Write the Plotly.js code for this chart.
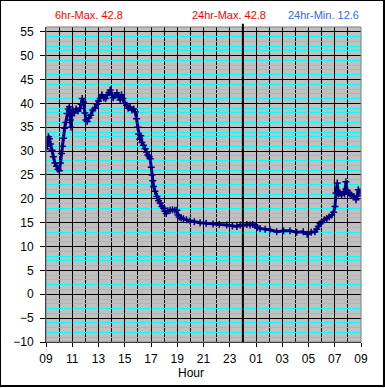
<!DOCTYPE html>
<html>
<head>
<meta charset="utf-8">
<script src="https://cdn.plot.ly/plotly-3.0.1.min.js"></script>
<style>
  html, body { margin: 0; padding: 0; background: #fff; }
  #chart { position: absolute; left: 0; top: 0; width: 385px; height: 388px; }
  #frame { position: absolute; left: 0; top: 0; width: 382px; height: 384px;
           border-left: 1px solid #000; border-top: 1px solid #000;
           border-right: 2px solid #000; border-bottom: 2px solid #000; pointer-events: none; }
</style>
</head>
<body>
<div id="chart"></div>
<div id="frame"></div>
<script>
// Hours elapsed since 09:00 of the first day
const hoursSinceStart = [
  0.00,0.04,0.10,0.18,0.26,0.34,0.46,0.56,0.68,0.80,0.92,1.02,1.10,1.18,1.26,1.34,1.42,1.50,1.60,1.70,
  1.78,1.86,1.90,1.96,2.04,2.16,2.30,2.44,2.58,2.68,2.76,2.86,2.96,3.04,3.14,3.26,3.40,3.56,3.72,3.88,
  4.00,4.13,4.26,4.40,4.54,4.66,4.80,4.89,5.00,5.12,5.26,5.40,5.52,5.65,5.76,5.86,6.00,6.14,6.26,6.40,
  6.54,6.68,6.80,6.90,6.98,7.06,7.14,7.22,7.31,7.42,7.56,7.66,7.75,7.86,7.94,8.02,8.08,8.14,8.20,8.30,
  8.45,8.58,8.70,8.84,8.95,9.06,9.16,9.28,9.46,9.64,9.82,9.97,10.05,10.15,10.30,10.47,10.70,10.98,11.30,11.74,
  12.20,12.73,13.20,13.77,14.20,14.54,14.80,15.02,15.30,15.55,15.75,15.93,16.10,16.31,16.70,17.07,17.58,18.10,18.59,19.10,
  19.60,19.90,20.20,20.49,20.62,20.75,20.88,21.00,21.20,21.39,21.58,21.77,21.92,22.02,22.09,22.19,22.29,22.40,22.52,22.65,
  22.75,22.85,22.94,23.03,23.16,23.29,23.45,23.62,23.72,23.79,23.92,24.00
];
const temperature = [
  30.5,32.0,31.0,33.0,32.6,31.5,30.2,28.8,27.5,26.8,26.2,25.9,27.5,29.5,31.0,32.7,34.8,36.0,37.9,38.8,
  39.3,36.5,35.0,37.5,38.6,38.0,38.8,38.4,38.9,39.8,41.0,40.3,38.0,36.5,36.2,37.0,37.5,38.6,39.0,39.8,
  40.5,41.0,41.8,41.2,41.0,41.8,42.2,42.8,41.8,41.2,41.6,42.2,41.4,40.7,41.8,41.0,40.0,39.6,39.0,39.2,
  38.6,38.8,38.2,36.8,35.0,33.6,32.5,33.2,31.8,31.2,30.5,29.8,29.2,28.8,28.4,26.6,25.0,23.8,22.6,21.6,
  20.5,19.6,19.1,18.4,18.0,17.4,16.9,17.5,17.6,17.7,17.6,17.6,16.6,16.2,16.0,15.8,15.6,15.4,15.2,15.0,
  14.9,14.7,14.6,14.5,14.3,14.2,14.5,14.4,14.6,14.5,14.6,14.4,14.0,13.8,13.6,13.5,13.1,13.3,13.3,13.0,
  13.1,12.6,13.0,13.1,13.6,14.2,14.8,15.2,15.6,15.9,16.2,16.6,17.2,18.4,21.2,23.3,21.0,21.2,20.8,21.5,
  21.0,23.6,21.8,21.2,21.0,20.8,20.5,19.8,20.6,21.9,21.5,21.3
];
const tickPositions = [0,2,4,6,8,10,12,14,16,18,20,22,24];
const tickLabels = ['09','11','13','15','17','19','21','23','01','03','05','07','09'];
const startHour = 9;
const statLabels = ['6hr-Max. 42.8', '24hr-Max. 42.8', '24hr-Min. 12.6'];
const statColors = ['#ff0000', '#ff0000', '#3366ff'];
const statPositions = [0.135, 0.58, 0.88];

const midnight = 24 - startHour;

const trace = {
  x: hoursSinceStart,
  y: temperature,
  type: 'scatter',
  mode: 'lines+markers',
  line: { color: '#000080', width: 3 },
  marker: { symbol: 'cross-thin-open', size: 5, color: '#000080', line: { color: '#000080', width: 1.5 } },
  hoverinfo: 'skip'
};

const annotations = statLabels.map((t, i) => ({
  text: t, xref: 'paper', yref: 'paper', x: statPositions[i], y: 1.038,
  xanchor: 'center', yanchor: 'middle', showarrow: false,
  font: { family: 'Liberation Sans, Arial, sans-serif', size: 11, color: statColors[i] }
}));
annotations.push({
  text: 'Hour', xref: 'paper', yref: 'paper', x: 0.46, y: -0.097,
  xanchor: 'center', yanchor: 'middle', showarrow: false,
  font: { family: 'Liberation Sans, Arial, sans-serif', size: 12, color: '#000' }
});

const layout = {
  width: 385, height: 388,
  margin: { l: 46, r: 24, t: 27, b: 46, pad: 0 },
  paper_bgcolor: '#ffffff',
  plot_bgcolor: '#c0c0c0',
  showlegend: false,
  font: { family: 'Liberation Sans, Arial, sans-serif', size: 12, color: '#000' },
  xaxis: {
    range: [0, 24],
    tickmode: 'array', tickvals: tickPositions, ticktext: tickLabels,
    ticks: 'outside', ticklen: 4, tickcolor: '#000', tickwidth: 1,
    ticklabelstandoff: 2,
    showgrid: true, gridcolor: '#000', gridwidth: 1,
    minor: { tickmode: 'linear', tick0: 0, dtick: 1, showgrid: true, gridcolor: '#000', gridwidth: 1 },
    showline: true, linecolor: '#000', linewidth: 1,
    zeroline: false, fixedrange: true,
    tickfont: { size: 12 }
  },
  yaxis: {
    range: [-10, 56],
    tickmode: 'linear', tick0: -10, dtick: 5,
    ticks: 'outside', ticklen: 5, tickcolor: '#000', tickwidth: 1,
    ticklabelstandoff: 4,
    showgrid: true, gridcolor: '#000', gridwidth: 1,
    minor: { tickmode: 'linear', tick0: -10, dtick: 1, showgrid: true, gridcolor: '#00ffff', gridwidth: 1 },
    showline: true, linecolor: '#000', linewidth: 1,
    zeroline: false, fixedrange: true,
    tickfont: { size: 12 }
  },
  shapes: [
    { type: 'rect', xref: 'paper', yref: 'paper', x0: 0, x1: 1, y0: 0, y1: 1,
      line: { color: '#808080', width: 1 }, layer: 'above' },
    { type: 'line', xref: 'x', yref: 'paper', x0: midnight, x1: midnight, y0: 0, y1: 1.01,
      line: { color: '#000', width: 2 }, layer: 'above' }
  ],
  annotations: annotations
};

Plotly.newPlot('chart', [trace], layout, { staticPlot: true, displayModeBar: false });
</script>
</body>
</html>
